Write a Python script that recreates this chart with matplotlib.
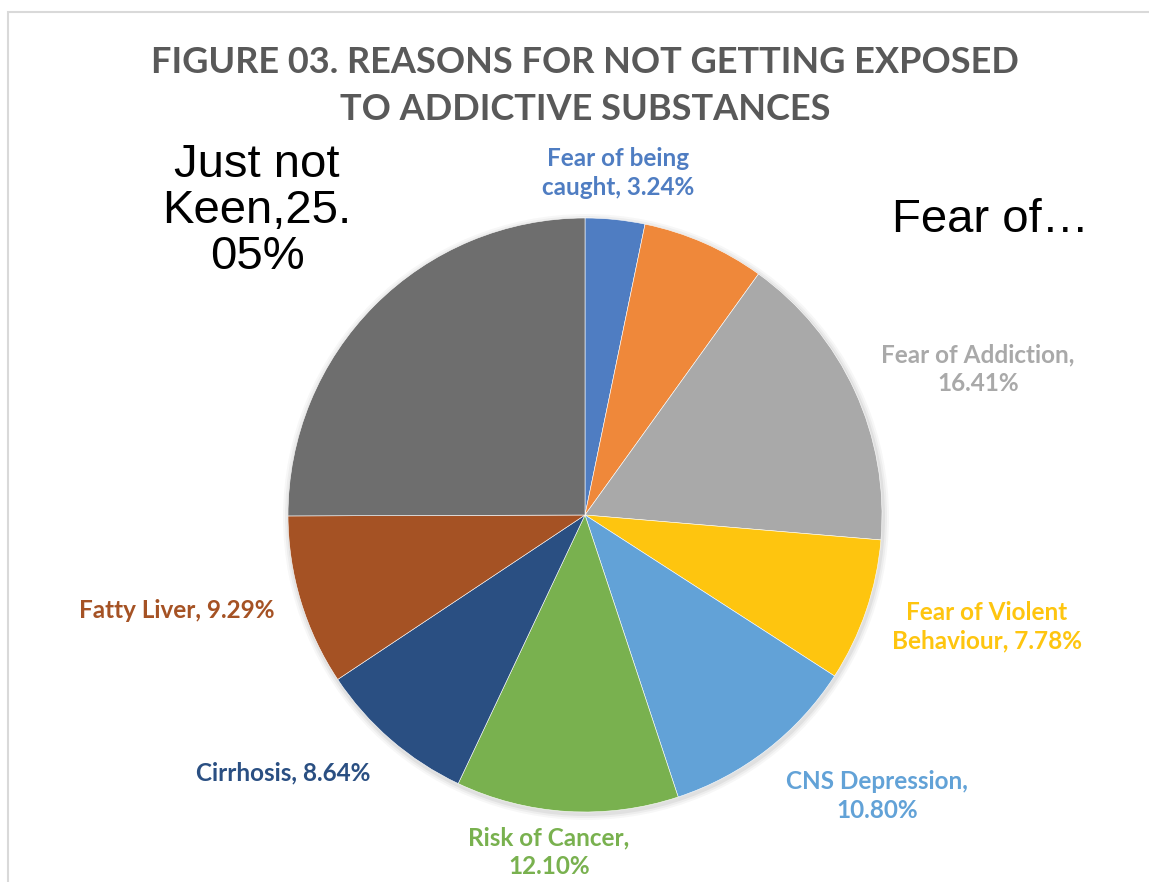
import matplotlib.pyplot as plt
from matplotlib.patches import Rectangle

# data
labels = ["Fear of being\ncaught, 3.24%", "Fear of…", "Fear of Addiction,\n16.41%",
          "Fear of Violent\nBehaviour, 7.78%", "CNS Depression,\n10.80%",
          "Risk of Cancer,\n12.10%", "Cirrhosis, 8.64%", "Fatty Liver, 9.29%",
          "Just not\nKeen,25.\n05%"]
values = [3.24, 6.69, 16.41, 7.78, 10.80, 12.10, 8.64, 9.29, 25.05]
colors = ["#4F7DC2", "#EF883A", "#A9A9A9", "#FEC50F", "#62A2D7",
          "#79B14F", "#2A4F82", "#A55224", "#6E6E6E"]
title = "FIGURE 03. REASONS FOR NOT GETTING EXPOSED\nTO ADDICTIVE SUBSTANCES"

# label positions in pixels (x, y from top)
label_pos = [(618, 173), (990, 220), (978, 369), (987, 627), (877, 796),
             (549, 852), (283, 773), (177, 611), (257, 211)]

W, H = 1149, 882
fig = plt.figure(figsize=(W / 100, H / 100), dpi=100)
ax = fig.add_axes([0, 0, 1, 1])

# chart frame
ax.add_patch(Rectangle((8, -20), W + 40, H - 12 + 20, fill=False,
                       edgecolor="#D9D9D9", linewidth=1.5))

cx, cy, r = 585, H - 515, 297
# soft shadow
for i, a in enumerate([0.05, 0.04, 0.03]):
    ax.add_patch(plt.Circle((cx + 1, cy - 2), r + 2 + 2 * i, color="black",
                            alpha=a, zorder=1, linewidth=0))

ax.pie(values, colors=colors, startangle=90, counterclock=False,
       center=(cx, cy), radius=r, frame=True,
       wedgeprops=dict(linewidth=0.4, edgecolor="white", zorder=2))
ax.set_xlim(0, W)
ax.set_ylim(0, H)
ax.axis("off")

for i, (lab, (x, y)) in enumerate(zip(labels, label_pos)):
    if lab.startswith("Just") or lab == "Fear of…":
        ax.text(x, H - y, lab, ha="center", va="center", fontsize=34,
                family="Liberation Sans", color="black", linespacing=1.05)
    else:
        ax.text(x, H - y, lab, ha="center", va="center", fontsize=17.5,
                family="Lato", fontweight="bold", color=colors[i],
                linespacing=1.3)

ax.text(585, H - 86, title, ha="center", va="center", fontsize=26,
        family="Lato", fontweight="bold", color="#595959", linespacing=1.55)

fig.savefig("out.png", dpi=100)
